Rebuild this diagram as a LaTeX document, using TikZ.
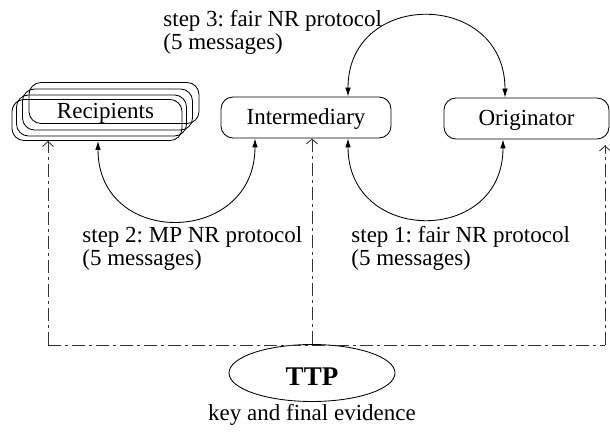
\documentclass[tikz,border=0pt]{standalone}
\usepackage{fontspec}
\setmainfont{Liberation Serif}
\usetikzlibrary{arrows.meta,shapes.geometric,calc}
\frenchspacing
\begin{document}
\begin{tikzpicture}[x=1pt,y=1pt,line width=0.85pt,
  every node/.style={font=\fontsize{23}{23}\selectfont,inner sep=0pt},
  pbox/.style={draw,rounded corners=12pt,minimum width=170pt,minimum height=41pt,text height=17.25pt,text depth=2.3pt},
  lbl/.style={anchor=north west,align=left},
  msg/.style={{Latex[length=9pt,width=5.5pt]}-{Latex[length=9pt,width=5.5pt]},looseness=1.75},
  dd/.style={black!80,dash pattern=on 13pt off 4pt on 3pt off 4pt},
  tipseg/.style={black!80,solid,-{Straight Barb[length=5pt,width=11pt]},shorten <=-8pt}]
\useasboundingbox (0,0) rectangle (610,431);
% recipients stack
\node[pbox] (r4) at (114,328) {};
\node[pbox] (r3) at (107.5,321.5) {};
\node[pbox] (r2) at (101.5,315.5) {};
\node[pbox] (r1) at (97,311) {};
\node[anchor=base] (rtext) at (105.5,312) {Recipients};
\node[pbox] (inter) at (306,313.5) {Intermediary};
\node[pbox,minimum width=165pt] (orig) at (526.5,312.5) {Originator};
\node[draw,ellipse,minimum width=166pt,minimum height=57pt,text height=24pt,text depth=0pt,
  font=\fontsize{27}{27}\selectfont\bfseries] (ttp) at (312,58) {TTP};
\node[anchor=base] (keytext) at (312,11) {key and final evidence};
% message arcs
\draw[msg] ([xshift=42pt]inter.north) to[out=90,in=90] ([xshift=-21.5pt]orig.north);
\draw[msg] ([xshift=42pt]inter.south) to[out=-90,in=-90] ([xshift=-23.5pt]orig.south);
\draw[msg] ([xshift=1pt]r1.south) to[out=-90,in=-90] ([xshift=-51pt]inter.south);
% labels
\node[lbl] (l3) at (163,421) {step 3: fair NR protocol\\(5 messages)};
\node[lbl] (l2) at (82,205) {step 2: MP NR protocol\\(5 messages)};
\node[lbl] (l1) at (351,205) {step 1: fair NR protocol\\(5 messages)};
% TTP connections
\coordinate (cL) at (48,86);
\coordinate (cR) at (605,86);
\coordinate (tL) at (cL |- r1.south);
\coordinate (tM) at (ttp.north |- inter.south);
\coordinate (tR) at ($(cR |- orig.south)+(0,-6)$);
\draw[dd] (cL) -- (cR);
\draw[dd] (cL) -- (tL);
\draw[dd] (ttp.north) -- (tM);
\draw[dd] (cR) -- (tR);
\draw[tipseg] ($(tL)+(0,-1)$) -- (tL);
\draw[tipseg] ($(tM)+(0,-1)$) -- (tM);
\draw[tipseg] ($(tR)+(0,-1)$) -- (tR);
\end{tikzpicture}
\end{document}
